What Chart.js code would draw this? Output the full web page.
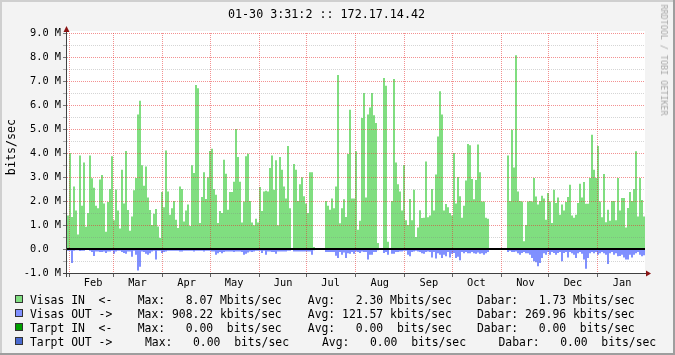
<!DOCTYPE html>
<html>
<head>
<meta charset="utf-8">
<script src="https://cdn.jsdelivr.net/npm/chart.js@4/dist/chart.umd.min.js"></script>
<style>
  html, body { margin: 0; padding: 0; background: #f3f3f3; }
  #wrap { position: relative; width: 675px; height: 355px; overflow: hidden; }
  #c { position: absolute; left: 0; top: 0; }
  .txt { position: absolute; font-family: 'DejaVu Sans Mono', monospace; white-space: pre; color: #000; }
  .lg { font-size: 11.4px; height: 14px; line-height: 14px; }
  .box { position: absolute; width: 6px; height: 6px; border: 1px solid #333; }
</style>
</head>
<body>
<div id="wrap">
  <canvas id="c" width="675" height="355"></canvas>
  <div id="title" class="txt" style="font-size:11.7px;line-height:14px;left:326.5px;top:7px;transform:translateX(-50%);">01-30 3:31:2 :: 172.17.14.42</div>
  <div id="ytitle" class="txt" style="font-size:11.7px;line-height:14px;left:10.5px;top:147px;transform:translate(-50%,-50%) rotate(-90deg);">bits/sec</div>
  <div id="wm" class="txt" style="font-size:8.4px;line-height:10px;color:#a8a8a8;left:664px;top:60px;transform:translate(-50%,-50%) rotate(90deg);">RRDTOOL / TOBI OETIKER</div>
  <div id="legend"></div>
</div>
<script>
// ---- axis description ----
const MONTH_NAMES  = ['Feb','Mar','Apr','May','Jun','Jul','Aug','Sep','Oct','Nov','Dec','Jan'];
const MONTH_STARTS = [1, 29, 60, 90, 121, 151, 182, 213, 243, 274, 304, 335]; // days since Jan 31
const LABEL_OFFSET = 15.5; // month labels sit mid-month
const SPAN_DAYS = 365;
const Y_MIN = -1, Y_MAX = 9, Y_STEP = 0.5; // Mbit/s

// ---- series (Mbit/s), consecutive samples across the year ----
const visasIn = [
  1.4, 4.0, 1.33, 2.6, 1.6, 0.6, 3.9, 1.8, 3.6, 0.93,
  1.5, 3.9, 2.95, 2.55, 1.8, 1.7, 2.9, 3.08, 1.9, 0.72,
  1.96, 2.5, 3.86, 1.2, 2.48, 1.6, 0.85, 3.3, 1.9, 4.08,
  1.63, 0.76, 1.35, 2.45, 2.96, 5.6, 6.18, 3.49, 2.64, 3.44,
  2.15, 1.63, 1.0, 1.47, 1.67, 0.94, 0.46, 2.37, 1.74, 4.1,
  2.4, 1.43, 1.7, 2.0, 1.22, 0.88, 2.6, 2.5, 1.15, 1.6,
  1.85, 0.96, 3.49, 3.17, 6.83, 6.7, 1.08, 2.17, 3.2, 2.08,
  2.99, 4.08, 4.18, 2.5, 2.26, 1.08, 1.58, 1.5, 3.72, 3.14,
  1.64, 2.37, 2.37, 2.8, 5.0, 3.83, 2.8, 1.1, 1.98, 3.86,
  3.97, 2.0, 1.1, 0.99, 1.26, 1.1, 2.58, 1.58, 2.4, 2.43,
  2.4, 3.37, 3.9, 2.47, 3.7, 0.99, 3.83, 3.3, 2.6, 2.1,
  4.29, 1.7, 0, 3.54, 3.3, 2.0, 2.7, 2.99, 2.2, 1.9,
  1.5, 3.2, 3.2, 0.08, 0, 0, 0, 0, 0, 2.0,
  1.8, 1.64, 2.1, 1.7, 2.6, 7.25, 1.07, 1.7, 2.07, 1.33,
  3.96, 5.8, 2.1, 2.1, 4.07, 0.8, 1.18, 5.46, 6.5, 2.15,
  5.6, 5.9, 6.5, 5.57, 5.25, 0.25, 0, 0, 7.13, 6.8,
  0.3, 0, 2.0, 7.08, 3.6, 2.7, 2.4, 1.6, 3.5, 1.2,
  1.0, 2.08, 1.2, 2.47, 0.5, 0.9, 1.61, 1.29, 1.3, 3.65,
  1.32, 1.4, 2.5, 1.6, 3.1, 4.69, 6.57, 5.6, 1.6, 1.88,
  1.74, 1.5, 1.4, 4.0, 1.9, 3.0, 2.2, 1.3, 1.8, 2.85,
  4.37, 4.32, 2.92, 2.07, 2.88, 4.35, 3.2, 1.98, 1.98, 1.3,
  1.26, 0, 0, 0, 0, 0, 0, 0, 0, 0,
  3.9, 2.0, 4.97, 3.4, 8.07, 2.4, 2.0, 1.98, 0.32, 1.0,
  1.98, 2.0, 1.98, 2.96, 2.19, 1.85, 2.0, 2.22, 2.1, 1.22,
  2.33, 1.98, 1.08, 2.47, 1.92, 2.15, 1.43, 1.85, 1.6, 1.96,
  2.17, 2.68, 1.4, 1.3, 1.43, 1.92, 2.72, 2.15, 2.79, 1.89,
  1.89, 2.96, 4.76, 3.3, 2.96, 4.29, 1.98, 1.32, 3.13, 1.11,
  1.64, 1.18, 2.0, 2.0, 1.2, 2.96, 1.6, 2.13, 2.13, 0.9,
  1.71, 2.37, 2.0, 2.5, 4.07, 1.35, 2.96, 2.04, 1.35
];
const visasOut = [
  -0.07, -0.07, -0.58, -0.07, -0.05, -0.05, -0.08, -0.07, -0.07, -0.03,
  -0.03, -0.07, -0.12, -0.29, -0.1, -0.1, -0.12, -0.12, -0.1, -0.17,
  -0.1, -0.1, -0.07, -0.2, -0.1, -0.07, -0.07, -0.12, -0.17, -0.2,
  -0.1, -0.1, -0.32, -0.07, -0.24, -0.9, -0.74, -0.1, -0.12, -0.2,
  -0.24, -0.18, -0.1, -0.07, -0.44, -0.07, -0.07, -0.17, -0.12, -0.1,
  -0.07, -0.07, -0.07, -0.07, -0.07, -0.07, -0.1, -0.1, -0.07, -0.07,
  -0.07, -0.07, -0.07, -0.1, -0.07, -0.07, -0.07, -0.07, -0.1, -0.07,
  -0.07, -0.07, -0.1, -0.1, -0.24, -0.18, -0.12, -0.18, -0.12, -0.1,
  -0.1, -0.1, -0.1, -0.12, -0.1, -0.1, -0.1, -0.12, -0.24, -0.2,
  -0.15, -0.1, -0.12, -0.1, -0.07, -0.07, -0.07, -0.17, -0.07, -0.24,
  -0.1, -0.1, -0.12, -0.12, -0.2, -0.1, -0.1, -0.1, -0.1, -0.1,
  -0.07, -0.07, 0, -0.1, -0.1, -0.1, -0.1, -0.1, -0.1, -0.1,
  -0.1, -0.1, -0.24, -0.05, 0, 0, 0, 0, 0, -0.12,
  -0.12, -0.12, -0.12, -0.12, -0.28, -0.38, -0.12, -0.24, -0.15, -0.38,
  -0.18, -0.2, -0.12, -0.2, -0.1, -0.12, -0.17, -0.1, -0.12, -0.12,
  -0.44, -0.24, -0.24, -0.12, -0.12, -0.05, 0, 0, -0.17, -0.12,
  -0.24, 0, -0.2, -0.2, -0.12, -0.12, -0.1, -0.1, -0.07, -0.07,
  -0.24, -0.3, -0.12, -0.1, -0.07, -0.1, -0.12, -0.18, -0.2, -0.12,
  -0.1, -0.12, -0.35, -0.12, -0.4, -0.18, -0.24, -0.38, -0.24, -0.3,
  -0.12, -0.35, -0.2, -0.17, -0.38, -0.32, -0.47, -0.12, -0.18, -0.12,
  -0.18, -0.18, -0.12, -0.18, -0.2, -0.15, -0.2, -0.18, -0.24, -0.18,
  -0.12, 0, 0, 0, 0, 0, 0, 0, 0, 0,
  -0.12, -0.07, -0.12, -0.12, -0.1, -0.18, -0.24, -0.17, -0.12, -0.18,
  -0.18, -0.24, -0.38, -0.51, -0.55, -0.72, -0.58, -0.38, -0.18, -0.24,
  -0.12, -0.24, -0.12, -0.17, -0.24, -0.17, -0.12, -0.51, -0.17, -0.12,
  -0.35, -0.12, -0.18, -0.24, -0.38, -0.18, -0.12, -0.2, -0.44, -0.82,
  -0.38, -0.18, -0.12, -0.18, -0.12, -0.24, -0.18, -0.12, -0.18, -0.24,
  -0.62, -0.18, -0.12, -0.24, -0.18, -0.3, -0.29, -0.24, -0.35, -0.44,
  -0.44, -0.24, -0.35, -0.24, -0.18, -0.12, -0.24, -0.3, -0.26
];

// ---- legend text ----
const legendLabels = ['Visas IN  <-', 'Visas OUT ->', 'Tarpt IN  <-', 'Tarpt OUT ->'];
const legendMax    = ['Max:   8.07 Mbits/sec', 'Max: 908.22 kbits/sec', 'Max:   0.00  bits/sec', 'Max:   0.00  bits/sec'];
const legendAvg    = ['Avg:   2.30 Mbits/sec', 'Avg: 121.57 kbits/sec', 'Avg:   0.00  bits/sec', 'Avg:   0.00  bits/sec'];
const legendNow    = ['Dabar:   1.73 Mbits/sec', 'Dabar: 269.96 kbits/sec', 'Dabar:   0.00  bits/sec', 'Dabar:   0.00  bits/sec'];
const legendColors = ['#80de80', '#8090ff', '#00a000', '#4a6ad0'];

// ---- build legend (HTML text) ----
(function(){
  const lg = document.getElementById('legend');
  const rowY = [299, 313, 327, 341];
  const colX = [[137.7, 307.8, 477], [137.7, 307.8, 477], [137.7, 307.8, 477], [145, 322, 498.5]];
  legendLabels.forEach((lab, i) => {
    const b = document.createElement('div');
    b.className = 'box';
    b.style.left = '15px'; b.style.top = (rowY[i] - 4) + 'px';
    b.style.background = legendColors[i];
    lg.appendChild(b);
    const parts = [[30, lab], [colX[i][0], legendMax[i]], [colX[i][1], legendAvg[i]], [colX[i][2], legendNow[i]]];
    parts.forEach(([x, t]) => {
      const s = document.createElement('div');
      s.className = 'txt lg';
      s.style.left = x + 'px'; s.style.top = (rowY[i] - 6.5) + 'px';
      s.textContent = t;
      lg.appendChild(s);
    });
  });
})();

function toPoints(arr) {
  const step = SPAN_DAYS / arr.length;
  const pts = arr.map((v, i) => ({ x: i * step, y: v }));
  pts.push({ x: SPAN_DAYS, y: arr[arr.length - 1] });
  return pts;
}

const MAJOR = 'rgba(232,45,45,0.52)';
const MINOR = 'rgba(128,128,128,0.33)';
const isMonthStart = (v) => MONTH_STARTS.indexOf(v) !== -1;

const frame = {
  id: 'rrdFrame',
  beforeDraw(chart) {
    const ctx = chart.ctx, a = chart.chartArea;
    ctx.save();
    ctx.fillStyle = '#f3f3f3';
    ctx.fillRect(0, 0, chart.width, chart.height);
    ctx.fillStyle = '#cfcfcf';
    ctx.fillRect(0, 0, chart.width, 2);
    ctx.fillRect(0, 0, 2, chart.height);
    ctx.fillStyle = '#9e9e9e';
    ctx.fillRect(0, chart.height - 2, chart.width, 2);
    ctx.fillRect(chart.width - 2, 0, 2, chart.height);
    ctx.fillStyle = '#ffffff';
    ctx.fillRect(a.left, a.top - 2, a.right - a.left, a.bottom - a.top + 2);
    ctx.restore();
  },
  afterDatasetsDraw(chart) {
    // dotted grid over the data + tick marks, placed from the library's scales
    const ctx = chart.ctx, a = chart.chartArea;
    const xs = chart.scales.x, ys = chart.scales.y;
    ctx.save();
    ctx.lineWidth = 1;
    ys.ticks.forEach(t => {
      const v = t.value;
      const y = Math.round(ys.getPixelForValue(v)) + 0.5;
      const major = Number.isInteger(v);
      ctx.setLineDash([]);
      ctx.strokeStyle = major ? 'rgba(90,90,90,0.8)' : 'rgba(130,130,130,0.6)';
      ctx.beginPath(); ctx.moveTo(a.left - 4, y); ctx.lineTo(a.left - 1, y); ctx.stroke();
      if (v === 0 || v === Y_MIN) return;
      ctx.setLineDash([1, 1]);
      ctx.strokeStyle = major ? MAJOR : MINOR;
      ctx.beginPath(); ctx.moveTo(a.left, y); ctx.lineTo(a.right, y); ctx.stroke();
    });
    xs.ticks.forEach(t => {
      if (!isMonthStart(t.value)) return;
      const x = Math.round(xs.getPixelForValue(t.value)) + 0.5;
      ctx.setLineDash([1, 1]);
      ctx.strokeStyle = MAJOR;
      ctx.beginPath(); ctx.moveTo(x, a.top); ctx.lineTo(x, a.bottom); ctx.stroke();
      ctx.setLineDash([]);
      ctx.strokeStyle = '#606060';
      ctx.beginPath(); ctx.moveTo(x, a.bottom + 1); ctx.lineTo(x, a.bottom + 4); ctx.stroke();
    });
    ctx.restore();
  },
  afterDraw(chart) {
    const ctx = chart.ctx, a = chart.chartArea;
    const y0 = chart.scales.y.getPixelForValue(0);
    ctx.save();
    ctx.fillStyle = '#000';
    ctx.fillRect(a.left, Math.round(y0) - 1, a.right - a.left, 2);
    ctx.strokeStyle = '#404040';
    ctx.lineWidth = 1;
    ctx.beginPath();
    ctx.moveTo(a.left - 0.5, a.bottom + 4);
    ctx.lineTo(a.left - 0.5, a.top - 4);
    ctx.moveTo(a.left - 4, a.bottom + 0.5);
    ctx.lineTo(a.right + 3, a.bottom + 0.5);
    ctx.stroke();
    ctx.fillStyle = '#8b1414';
    ctx.beginPath();
    ctx.moveTo(a.left - 3.5, a.top - 1);
    ctx.lineTo(a.left + 2.5, a.top - 1);
    ctx.lineTo(a.left - 0.5, a.top - 7);
    ctx.closePath(); ctx.fill();
    ctx.beginPath();
    ctx.moveTo(a.right + 1, a.bottom - 2.5);
    ctx.lineTo(a.right + 1, a.bottom + 3.5);
    ctx.lineTo(a.right + 6, a.bottom + 0.5);
    ctx.closePath(); ctx.fill();
    ctx.restore();
  }
};

new Chart(document.getElementById('c'), {
  type: 'line',
  data: {
    datasets: [
      { label: 'Visas IN', data: toPoints(visasIn), stepped: 'before', fill: 'origin',
        backgroundColor: '#80de80', borderColor: 'transparent', borderWidth: 0, pointRadius: 0 },
      { label: 'Visas OUT', data: toPoints(visasOut), stepped: 'before', fill: 'origin',
        backgroundColor: '#8090ff', borderColor: 'transparent', borderWidth: 0, pointRadius: 0 }
    ]
  },
  options: {
    responsive: false,
    animation: false,
    events: [],
    layout: { padding: { left: 0, top: 33, right: 30, bottom: 0 } },
    plugins: { legend: { display: false }, tooltip: { enabled: false }, title: { display: false } },
    scales: {
      x: {
        type: 'linear', min: 0, max: SPAN_DAYS,
        afterFit(s) { s.height = 82; },
        afterBuildTicks(s) {
          const t = [];
          MONTH_STARTS.forEach(d => { t.push({ value: d }); t.push({ value: d + LABEL_OFFSET }); });
          s.ticks = t;
        },
        border: { display: false },
        grid: { display: false, drawTicks: false, drawOnChartArea: false, lineWidth: 0 },
        ticks: {
          autoSkip: false, maxRotation: 0, minRotation: 0, padding: 4, color: '#000',
          font: { family: 'DejaVu Sans Mono', size: 10.3 },
          callback: (v) => {
            const i = MONTH_STARTS.indexOf(v - LABEL_OFFSET);
            return i === -1 ? '' : MONTH_NAMES[i];
          }
        }
      },
      y: {
        min: Y_MIN, max: Y_MAX,
        afterFit(s) { s.width = 67; },
        border: { display: false },
        grid: { display: false, drawTicks: false, drawOnChartArea: false, lineWidth: 0 },
        ticks: {
          stepSize: Y_STEP, autoSkip: false, padding: 6, color: '#000',
          font: { family: 'DejaVu Sans Mono', size: 10.3 },
          callback: (v) => {
            if (!Number.isInteger(v)) return '';
            return v === 0 ? '0.0  ' : v.toFixed(1) + ' M';
          }
        }
      }
    }
  },
  plugins: [frame]
});
</script>
</body>
</html>
